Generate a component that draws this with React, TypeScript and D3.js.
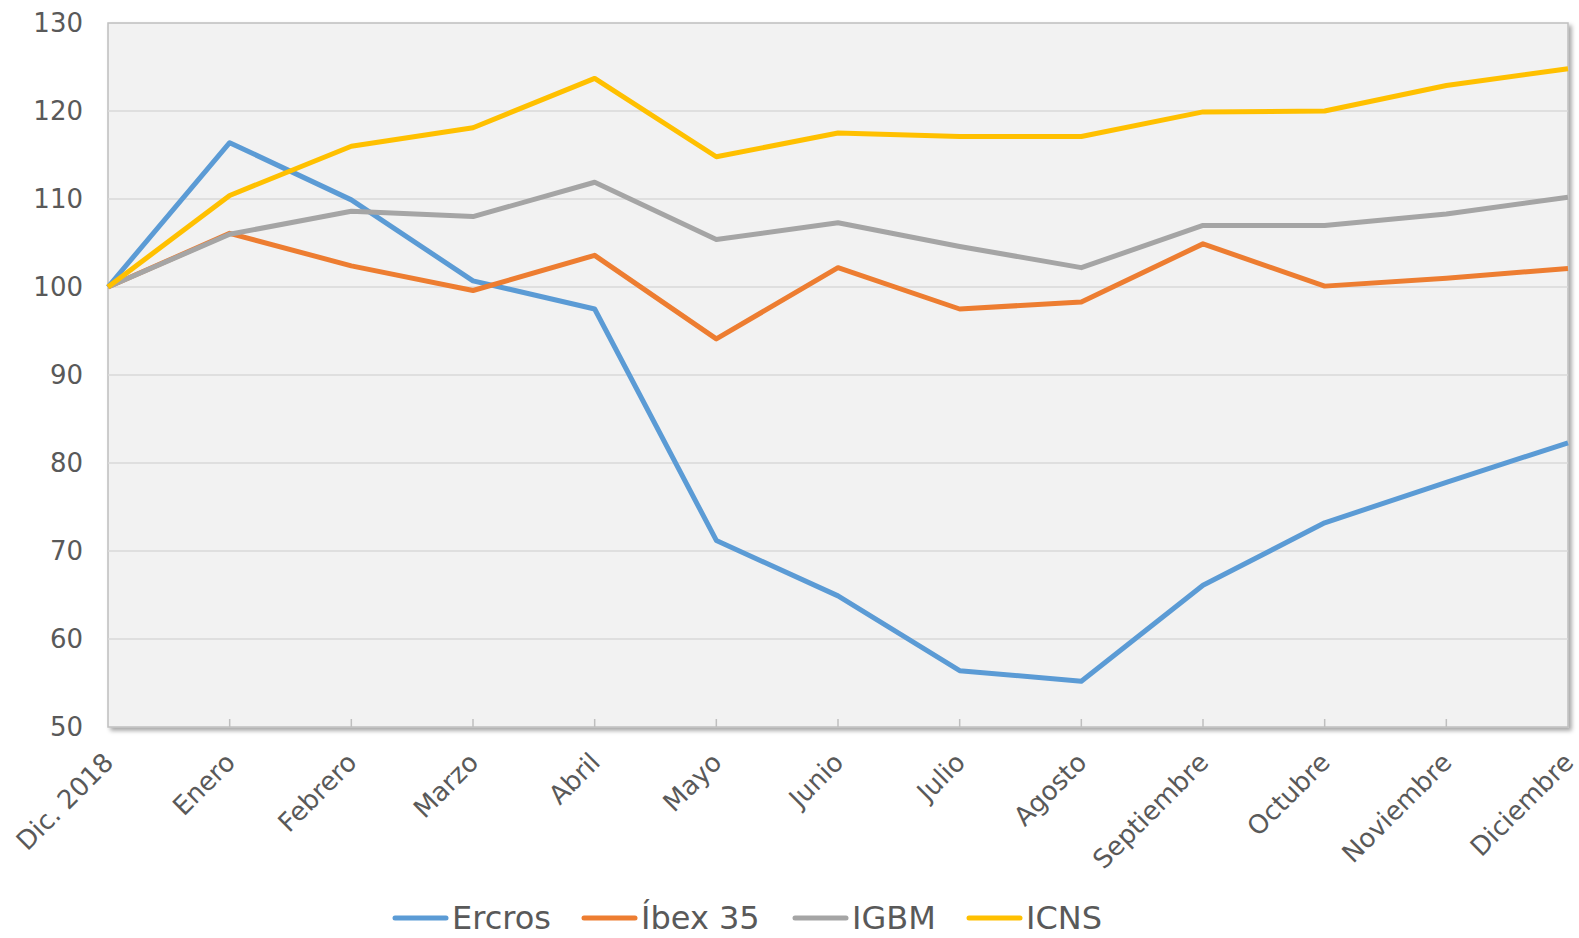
import { useEffect, useRef } from 'react'
import * as d3 from 'd3'

// Months (index 100 = Dic. 2018)
const months = ['Dic. 2018', 'Enero', 'Febrero', 'Marzo', 'Abril', 'Mayo', 'Junio', 'Julio', 'Agosto', 'Septiembre', 'Octubre', 'Noviembre', 'Diciembre']

const ercros = [100, 116.4, 109.9, 100.7, 97.5, 71.2, 64.9, 56.4, 55.2, 66.1, 73.2, 77.8, 82.3]
const ibex = [100, 106.1, 102.4, 99.6, 103.6, 94.1, 102.2, 97.5, 98.3, 104.9, 100.1, 101.0, 102.1]
const igbm = [100, 106.0, 108.6, 108.0, 111.9, 105.4, 107.3, 104.6, 102.2, 107.0, 107.0, 108.3, 110.2]
const icns = [100, 110.4, 116.0, 118.1, 123.7, 114.8, 117.5, 117.1, 117.1, 119.9, 120.0, 122.9, 124.8]

const seriesNames = ['Ercros', 'Íbex 35', 'IGBM', 'ICNS']
const seriesColors = ['#5B9BD5', '#ED7D31', '#A5A5A5', '#FFC000']
const yTicks = [50, 60, 70, 80, 90, 100, 110, 120, 130]

export default function App() {
  const svgRef = useRef<SVGSVGElement>(null)

  useEffect(() => {
    const W = 1579, H = 938
    const C = {
      text: '#595959',
      plot: '#F2F2F2',
      grid: '#D9D9D9',
      border: '#BFBFBF',
    }
    const font = '"DejaVu Sans", Verdana, sans-serif'
    const pad = { l: 108, r: 11, t: 23, b: 211 }

    const svg = d3.select(svgRef.current)
    svg.selectAll('*').remove()
    svg.attr('width', W).attr('height', H).style('display', 'block').style('background', '#fff')

    const xS = d3.scalePoint<string>().domain(months).range([pad.l, W - pad.r])
    const yS = d3.scaleLinear().domain([50, 130]).range([H - pad.b, pad.t])

    const defs = svg.append('defs')
    const filt = defs.append('filter').attr('id', 'shadow').attr('x', '-5%').attr('y', '-5%').attr('width', '110%').attr('height', '110%')
    filt.append('feDropShadow').attr('dx', 3).attr('dy', 3).attr('stdDeviation', 2).attr('flood-color', '#000').attr('flood-opacity', 0.35)

    // plot area
    const x0 = xS(months[0])!, x1 = xS(months[months.length - 1])!
    svg.append('rect').attr('x', x0).attr('y', yS(130)).attr('width', x1 - x0).attr('height', yS(50) - yS(130))
      .attr('fill', C.plot).attr('stroke', C.border).attr('stroke-width', 1.5).attr('filter', 'url(#shadow)')

    // grid
    yTicks.forEach(v => {
      if (v !== 50 && v !== 130)
        svg.append('line').attr('x1', x0).attr('x2', x1).attr('y1', yS(v)).attr('y2', yS(v)).attr('stroke', C.grid).attr('stroke-width', 1.5)
      svg.append('text').attr('x', 83).attr('y', yS(v)).attr('dy', '0.35em').attr('text-anchor', 'end')
        .attr('fill', C.text).attr('font-size', 26).attr('font-family', font).text(v)
    })

    // x ticks + labels
    months.forEach((m, i) => {
      const x = xS(m)!
      if (i > 0 && i < months.length - 1)
        svg.append('line').attr('x1', x).attr('x2', x).attr('y1', yS(50)).attr('y2', yS(50) - 8).attr('stroke', C.border).attr('stroke-width', 1.5)
      svg.append('text').attr('transform', `translate(${x + 7},${yS(50) + 37}) rotate(-45)`)
        .attr('text-anchor', 'end').attr('fill', C.text).attr('font-size', 26).attr('font-family', font).text(m)
    })

    // lines
    const line = d3.line<number>().x((_, i) => xS(months[i])!).y(d => yS(d))
    ;[ercros, ibex, igbm, icns].forEach((s, i) => {
      svg.append('path').datum(s).attr('fill', 'none').attr('stroke', seriesColors[i]).attr('stroke-width', 5)
        .attr('stroke-linejoin', 'round').attr('d', line)
    })

    // legend
    const legX = [395, 584, 795, 969]
    const legY = 918
    seriesNames.forEach((n, i) => {
      svg.append('line').attr('x1', legX[i]).attr('x2', legX[i] + 51).attr('y1', legY).attr('y2', legY)
        .attr('stroke', seriesColors[i]).attr('stroke-width', 5).attr('stroke-linecap', 'round')
      svg.append('text').attr('x', legX[i] + 57).attr('y', legY).attr('dy', '0.35em').attr('fill', C.text)
        .attr('font-size', 32).attr('font-family', font).text(n)
    })
  }, [])

  return (
    <div style={{ position: 'fixed', left: 0, top: 0, width: 1579, height: 938, overflow: 'hidden' }}>
      <svg ref={svgRef} />
    </div>
  )
}
